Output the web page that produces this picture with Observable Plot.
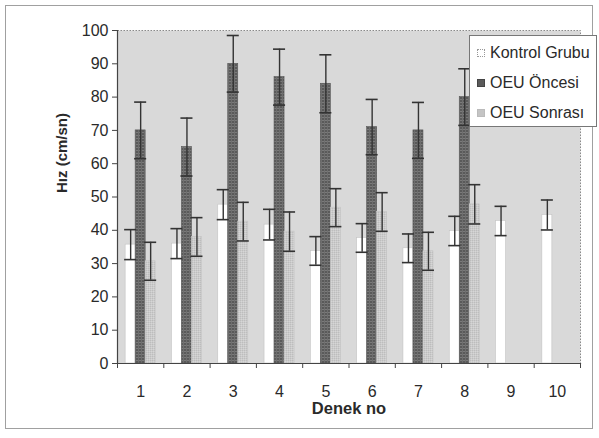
<!DOCTYPE html>
<html><head><meta charset="utf-8">
<script src="https://cdn.jsdelivr.net/npm/d3@7"></script>
<script src="https://cdn.jsdelivr.net/npm/@observablehq/plot@0.6"></script>
<style>
body{margin:0;background:#fff;font-family:"Liberation Sans",Arial,sans-serif}
#wrap{position:relative;width:599px;height:438px;overflow:hidden}
#frame{position:absolute;left:5px;top:5px;width:588px;height:424px;border:1px solid #a0a0a0;box-sizing:border-box}
#chart{position:absolute;left:0;top:0}
#legend{position:absolute;left:469px;top:35px;width:128px;height:92px;background:#fff;border:1px solid #777;box-sizing:border-box;padding-top:2px}
.row{height:30px;line-height:30px;font-size:16px;color:#2a2a2a;white-space:nowrap}
.sw{display:inline-block;width:8px;height:8px;margin-left:7px;margin-right:5px;vertical-align:middle;position:relative;top:-1px;box-sizing:border-box}
</style>
</head><body>
<div id="wrap"><div id="frame"></div><div id="chart"></div><div id="legend"></div></div>
<script>
const groups = [1, 2, 3, 4, 5, 6, 7, 8, 9, 10];
const seriesNames = ["Kontrol Grubu", "OEU Öncesi", "OEU Sonrası"];
const kontrol   = [35.7, 36.0, 47.7, 41.7, 33.8, 37.7, 34.6, 39.8, 42.8, 44.6];
const kontrolSD = [4.5, 4.5, 4.5, 4.6, 4.3, 4.3, 4.3, 4.4, 4.4, 4.5];
const oncesi    = [70.0, 65.0, 90.0, 86.0, 84.0, 71.0, 70.0, 80.0, null, null];
const oncesiSD  = [8.5, 8.7, 8.5, 8.4, 8.7, 8.3, 8.4, 8.5, null, null];
const sonrasi   = [30.7, 38.0, 42.6, 39.6, 46.8, 45.5, 33.7, 47.8, null, null];
const sonrasiSD = [5.7, 5.8, 5.8, 5.9, 5.7, 5.8, 5.7, 5.9, null, null];
const yTicks = [0, 10, 20, 30, 40, 50, 60, 70, 80, 90, 100];
const boundaryTicks = [0.5, 1.5, 2.5, 3.5, 4.5, 5.5, 6.5, 7.5, 8.5, 9.5, 10.5];

const means = [kontrol, oncesi, sonrasi];
const sds = [kontrolSD, oncesiSD, sonrasiSD];
const rows = [];
means.forEach((arr, k) => arr.forEach((v, j) => {
  if (v != null) rows.push({g: groups[j], s: seriesNames[k], k, mean: v, sd: sds[k][j]});
}));

const barW = 0.216;   // bar width in group units
const capW = 0.26;    // error cap width in group units
const fills = ["#ffffff", "url(#darkPat)", "url(#lightPat)"];
const center = d => d.g + (d.k - 1) * barW;

const plot = Plot.plot({
  width: 599, height: 438,
  marginLeft: 117, marginRight: 19, marginTop: 30, marginBottom: 75,
  style: {fontFamily: "Liberation Sans, Arial, sans-serif", fontSize: "16px", color: "#2a2a2a", background: "transparent"},
  x: {domain: [0.5, 10.5]},
  y: {domain: [0, 100]},
  marks: [
    Plot.frame({fill: "url(#bgPat)", stroke: "#8a8a8a", strokeDasharray: "1.5,1.5"}),
    Plot.rectY(rows, {x1: d => center(d) - barW / 2, x2: d => center(d) + barW / 2, y1: 0, y2: "mean",
      fill: d => fills[d.k], stroke: d => d.k === 1 ? "#555" : "#c4c4c4", strokeWidth: 0.6}),
    Plot.ruleX(rows, {x: center, y1: d => d.mean - d.sd, y2: d => d.mean + d.sd, stroke: "#333", strokeWidth: 1.4}),
    Plot.ruleY(rows, {x1: d => center(d) - capW / 2, x2: d => center(d) + capW / 2, y: d => d.mean + d.sd, stroke: "#333", strokeWidth: 1.6}),
    Plot.ruleY(rows, {x1: d => center(d) - capW / 2, x2: d => center(d) + capW / 2, y: d => d.mean - d.sd, stroke: "#333", strokeWidth: 1.6}),
    Plot.frame({anchor: "left", stroke: "#444", strokeWidth: 1.2}),
    Plot.frame({anchor: "bottom", stroke: "#444", strokeWidth: 1.2}),
    Plot.axisY({ticks: yTicks, tickSize: 5, tickPadding: 4, label: null, stroke: "#444", fontSize: 16}),
    Plot.axisX({ticks: boundaryTicks, tickSize: 5, tickFormat: () => "", label: null, stroke: "#444"}),
    Plot.axisX({ticks: groups, tickSize: 0, tickPadding: 22, label: null, fontSize: 16}),
    Plot.text(["Denek no"], {frameAnchor: "bottom", dy: 50, text: d => d, fontWeight: "bold", fontSize: 16.5, fill: "#2a2a2a"}),
    Plot.text(["Hız (cm/sn)"], {frameAnchor: "left", dx: -55, dy: -4, rotate: -90, text: d => d, fontWeight: "bold", fontSize: 15, fill: "#2a2a2a"})
  ]
});

const defs = `<defs>
<pattern id="bgPat" width="2" height="2" patternUnits="userSpaceOnUse">
  <rect width="2" height="2" fill="#dadada"/><rect width="1" height="1" fill="#cecece"/><rect x="1" y="1" width="1" height="1" fill="#e3e3e3"/>
</pattern>
<pattern id="darkPat" width="3" height="3" patternUnits="userSpaceOnUse">
  <rect width="3" height="3" fill="#5a5a5a"/><rect width="3" height="1" fill="#7a7a7a"/><rect width="1" height="3" fill="#6e6e6e"/>
</pattern>
<pattern id="lightPat" width="2" height="2" patternUnits="userSpaceOnUse">
  <rect width="2" height="2" fill="#cbcbcb"/><rect width="1" height="1" fill="#bdbdbd"/><rect x="1" y="1" width="1" height="1" fill="#d6d6d6"/>
</pattern>
</defs>`;
plot.insertAdjacentHTML("afterbegin", defs);
document.getElementById("chart").appendChild(plot);

const legendSw = ["background:#fff;border:1px dotted #999", "background:#5a5a5a;border:1px solid #444", "background:#c4c4c4;border:1px solid #bbb"];
const lg = document.getElementById("legend");
seriesNames.forEach((name, i) => {
  const r = document.createElement("div");
  r.className = "row";
  r.innerHTML = `<span class="sw" style="${legendSw[i]}"></span>${name}`;
  lg.appendChild(r);
});
</script>
</body></html>
